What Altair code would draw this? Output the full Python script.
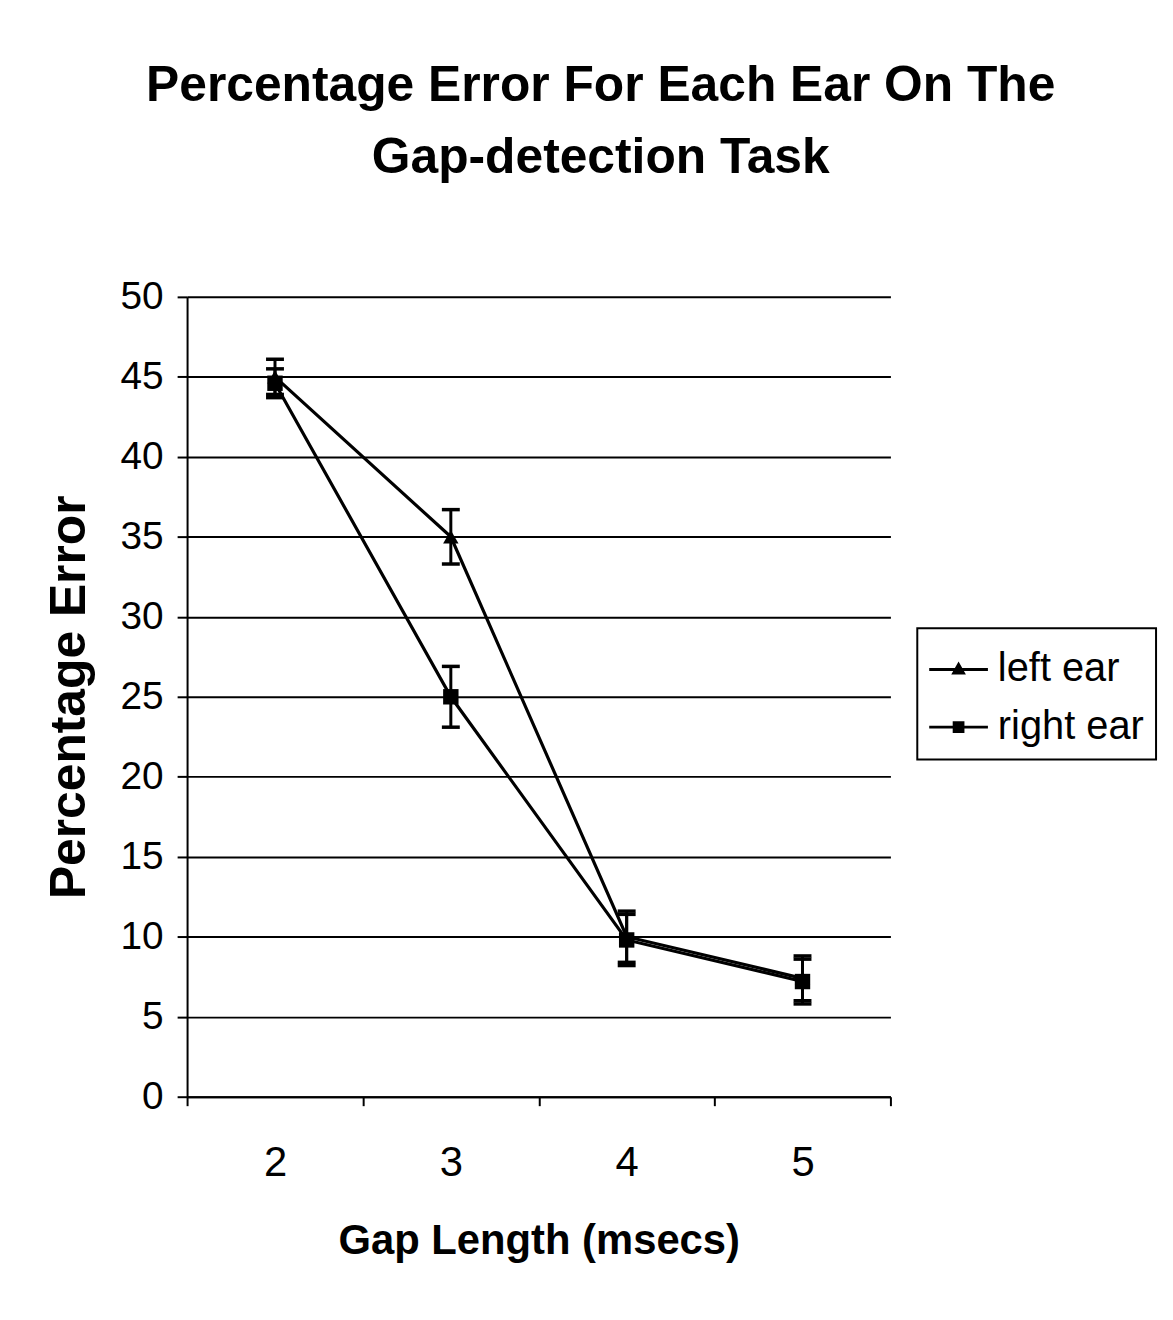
import altair as alt
import pandas as pd

gap = [2, 3, 4, 5]
series = ["left ear", "right ear"]
left_pct = [45.0, 35.0, 10.0, 7.4]
left_err = [1.1, 1.7, 1.6, 1.4]
right_pct = [44.6, 25.0, 9.8, 7.2]
right_err = [0.9, 1.9, 1.6, 1.4]

rows = []
for ear, vals, errs in [(series[0], left_pct, left_err), (series[1], right_pct, right_err)]:
    for g, v, e in zip(gap, vals, errs):
        rows.append({"gap": g, "ear": ear, "pct": v, "lo": v - e, "hi": v + e})
df = pd.DataFrame(rows)

FONT = "Liberation Sans"
black = "#000000"

x_enc = alt.X(
    "gap:O",
    scale=alt.Scale(type="band", paddingInner=0, paddingOuter=0),
    axis=alt.Axis(
        title="Gap Length (msecs)",
        labelAngle=0,
        tickBand="extent",
        labelFontSize=42,
        labelFont=FONT,
        labelColor=black,
        labelPadding=37,
        tickSize=9,
        tickWidth=2,
        tickColor=black,
        domainColor=black,
        domainWidth=2,
        titleFontSize=42,
        titleFont=FONT,
        titleFontWeight="bold",
        titleColor=black,
        titlePadding=38,
        grid=False,
    ),
)
y_scale = alt.Scale(domain=[0, 50], nice=False)
y_axis = alt.Axis(
    title="Percentage Error",
    values=[0, 5, 10, 15, 20, 25, 30, 35, 40, 45, 50],
    labelFontSize=39,
    labelFont=FONT,
    labelColor=black,
    labelPadding=14,
    tickSize=10,
    tickWidth=2,
    tickColor=black,
    domainColor=black,
    domainWidth=2,
    grid=True,
    gridColor=black,
    gridWidth=2,
    gridOpacity=1,
    titleFontSize=50,
    titleFont=FONT,
    titleFontWeight="bold",
    titleColor=black,
    titlePadding=26,
)

base = alt.Chart(df)

lines = base.mark_line(color=black, strokeWidth=3.2).encode(
    x=x_enc,
    y=alt.Y("pct:Q", scale=y_scale, axis=y_axis),
    detail="ear:N",
)

rules = base.mark_rule(color=black, strokeWidth=3, opacity=1).encode(
    x="gap:O", y="lo:Q", y2="hi:Q"
)
caps_hi = base.mark_tick(color=black, size=18, thickness=3.5, opacity=1).encode(x="gap:O", y="hi:Q")
caps_lo = base.mark_tick(color=black, size=18, thickness=3.5, opacity=1).encode(x="gap:O", y="lo:Q")

points = base.mark_point(filled=True, size=240, color=black, opacity=1).encode(
    x="gap:O",
    y="pct:Q",
    shape=alt.Shape(
        "ear:N",
        scale=alt.Scale(domain=series, range=["triangle-up", "square"]),
        legend=None,
    ),
)

left_sym = "M-1,-0.05H1V0.05H-1Z M-0.25,0.17L0,-0.27L0.25,0.17Z"
right_sym = "M-1,-0.05H1V0.05H-1Z M-0.2,-0.2H0.2V0.2H-0.2Z"

legend_layer = base.transform_filter("datum.pct > 1000").mark_point(
    filled=True, color=black, opacity=1
).encode(
    x="gap:O",
    y="pct:Q",
    shape=alt.Shape(
        "ear:N",
        scale=alt.Scale(domain=series, range=[left_sym, right_sym]),
        legend=alt.Legend(
            title=None,
            orient="none",
            legendX=734,
            legendY=333,
            symbolSize=3481,
            symbolFillColor=black,
            symbolStrokeWidth=0,
            symbolOpacity=1,
            labelFontSize=40,
            labelFont=FONT,
            labelColor=black,
            labelLimit=400,
            labelOffset=10,
            rowPadding=8,
            padding=12,
            strokeColor=black,
            fillColor="white",
        ),
    ),
)

chart = (
    alt.layer(lines, rules, caps_hi, caps_lo, points, legend_layer)
    .resolve_scale(shape="independent")
    .properties(
        width=707,
        height=804,
        title=alt.TitleParams(
            text=["Percentage Error For Each Ear On The", "Gap-detection Task"],
            fontSize=50,
            font=FONT,
            fontWeight="bold",
            color=black,
            lineHeight=72,
            anchor="middle",
            frame="bounds",
            offset=96,
        ),
        padding={"left": 36, "top": 50, "right": 8, "bottom": 40},
        background="white",
    )
    .configure_view(stroke=None)
    .configure_legend(strokeWidth=2)
)

chart.save("out.html", embed_options={"renderer": "svg", "actions": False})
